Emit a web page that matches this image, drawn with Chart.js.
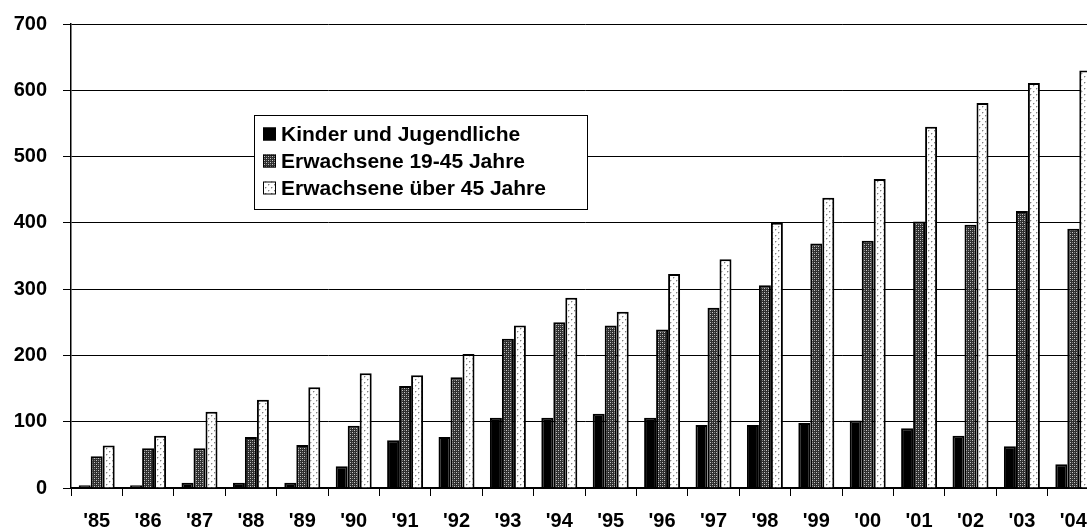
<!DOCTYPE html>
<html>
<head>
<meta charset="utf-8">
<script src="https://cdn.jsdelivr.net/npm/chart.js@4.4.0/dist/chart.umd.min.js"></script>
<style>
  html, body { margin: 0; padding: 0; background: #fff; overflow: hidden; }
  #wrap { position: absolute; left: 0; top: 0; width: 1100px; height: 529px; }
</style>
</head>
<body>
<div id="wrap"><canvas id="chart" width="1100" height="529"></canvas></div>
<script>
// years on the x axis
const years = ["'85", "'86", "'87", "'88", "'89", "'90", "'91", "'92", "'93", "'94",
               "'95", "'96", "'97", "'98", "'99", "'00", "'01", "'02", "'03", "'04"];

const seriesNames = ['Kinder und Jugendliche', 'Erwachsene 19-45 Jahre', 'Erwachsene über 45 Jahre'];

const kinder = [4, 4, 8, 8, 8, 33, 72, 77, 106, 106, 112, 106, 95, 95, 98, 102, 90, 79, 63, 36];
const erw1945 = [48, 60, 60, 77, 65, 94, 154, 167, 225, 250, 245, 239, 272, 306, 369, 373, 402, 397, 418, 391];
const erwUeber45 = [64, 79, 115, 133, 152, 173, 170, 202, 245, 287, 266, 323, 345, 400, 438, 466, 545, 581, 611, 630];

const yTicks = [0, 100, 200, 300, 400, 500, 600, 700];

const FONT = 'Liberation Sans, Arial, sans-serif';

// small fill patterns like the old office chart
function makePattern(size, bg, dots) {
    const c = document.createElement('canvas');
    c.width = size; c.height = size;
    const g = c.getContext('2d');
    g.fillStyle = bg;
    g.fillRect(0, 0, size, size);
    dots.forEach(function (d) {
        g.fillStyle = d[2];
        g.fillRect(d[0], d[1], 1, 1);
    });
    return g.createPattern(c, 'repeat');
}

const darkPattern = makePattern(4, '#2e2e2e', [
    [0, 0, '#c8c8c8'], [2, 2, '#c8c8c8'], [0, 2, '#808080'], [2, 0, '#808080']
]);
const dotPattern = makePattern(6, '#ffffff', [
    [1, 1, '#808080'], [4, 4, '#808080'], [2, 1, '#d0d0d0'], [5, 4, '#d0d0d0'],
    [1, 2, '#d0d0d0'], [4, 5, '#d0d0d0']
]);

// legend box drawn by hand, sits inside the plot
const boxLegend = {
    id: 'boxLegend',
    afterDatasetsDraw(chart) {
        const ctx = chart.ctx;
        const x = 254.5, y = 115.5, w = 333, h = 94;
        ctx.save();
        ctx.fillStyle = '#fff';
        ctx.fillRect(x, y, w, h);
        ctx.strokeStyle = '#000';
        ctx.lineWidth = 1;
        ctx.strokeRect(x, y, w, h);
        const rows = [134, 161, 188];
        ctx.font = 'bold 21px ' + FONT;
        ctx.textBaseline = 'middle';
        chart.data.datasets.forEach(function (ds, i) {
            const cy = rows[i];
            ctx.fillStyle = ds.backgroundColor;
            ctx.fillRect(263, cy - 6.5, 13, 13);
            ctx.strokeStyle = '#000';
            ctx.strokeRect(263.5, cy - 6, 12, 12);
            ctx.fillStyle = '#000';
            ctx.fillText(ds.label, 281, cy + 1);
        });
        ctx.restore();
    }
};

const cfg = {
    type: 'bar',
    data: {
        labels: years,
        datasets: [
            { label: seriesNames[0], data: kinder, backgroundColor: '#000000' },
            { label: seriesNames[1], data: erw1945, backgroundColor: darkPattern },
            { label: seriesNames[2], data: erwUeber45, backgroundColor: dotPattern }
        ]
    },
    options: {
        responsive: false,
        animation: false,
        devicePixelRatio: 1,
        layout: { padding: { left: 0, right: 1, top: 24, bottom: 0 } },
        datasets: {
            bar: {
                borderColor: '#000',
                borderWidth: 2,
                categoryPercentage: 0.7,
                barPercentage: 1.0
            }
        },
        plugins: {
            legend: { display: false },
            tooltip: { enabled: false }
        },
        scales: {
            x: {
                offset: true,
                grid: {
                    display: true,
                    offset: true,
                    drawOnChartArea: false,
                    color: '#000',
                    tickLength: 8
                },
                border: { display: true, color: '#000', width: 1.5 },
                ticks: {
                    color: '#000',
                    font: { family: FONT, size: 20, weight: 'bold' },
                    padding: 13,
                    maxRotation: 0,
                    autoSkip: false
                },
                afterFit(scale) { scale.height = 41; }
            },
            y: {
                min: 0,
                max: 700,
                afterBuildTicks(scale) {
                    scale.ticks = yTicks.map(function (v) { return { value: v }; });
                },
                grid: { color: '#000', lineWidth: 1, tickLength: 8 },
                border: { display: true, color: '#000', width: 1.5 },
                ticks: {
                    color: '#000',
                    font: { family: FONT, size: 20, weight: 'bold' },
                    padding: 16
                },
                afterFit(scale) {
                    scale.width = 71;
                    // keep the top gridline where the original has it
                    scale.paddingTop = 0;
                    scale.paddingBottom = 0;
                }
            }
        }
    },
    plugins: [boxLegend]
};

new Chart(document.getElementById('chart'), cfg);
</script>
</body>
</html>
